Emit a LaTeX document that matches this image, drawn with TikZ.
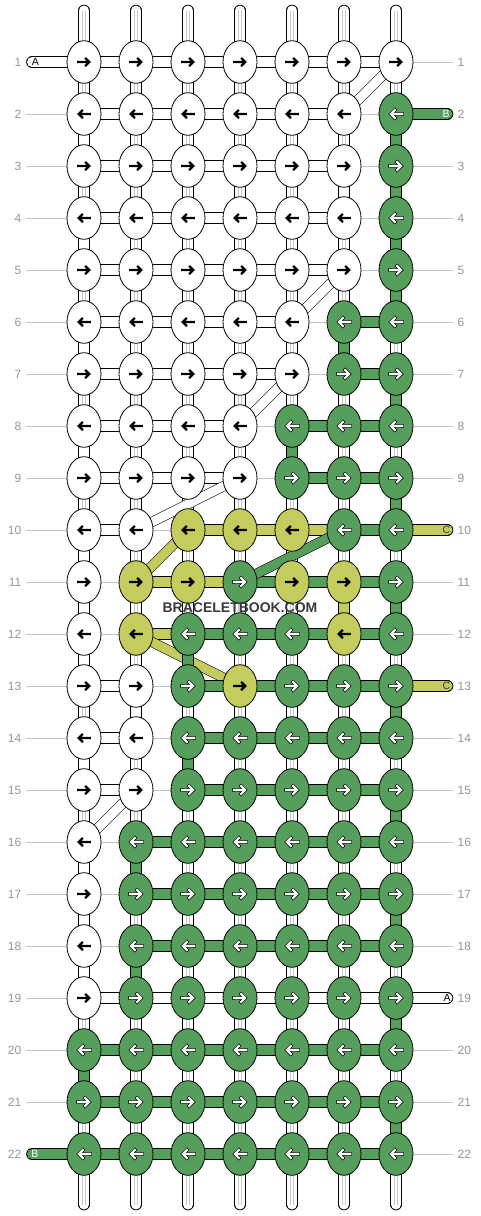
\documentclass[tikz,border=0pt]{standalone}
\usepackage{fontspec}
\setmainfont{Liberation Sans}
\usetikzlibrary{shapes.geometric}
\definecolor{cW}{RGB}{255,255,255}
\definecolor{cG}{RGB}{85,158,91}
\definecolor{cY}{RGB}{196,204,94}
\definecolor{cZ}{RGB}{196,204,94}
\definecolor{guidegrey}{RGB}{195,195,195}
\definecolor{lblgrey}{RGB}{150,150,150}
\definecolor{strandgrey}{RGB}{200,200,200}
\definecolor{wmark}{RGB}{58,58,58}
\pgfdeclarelayer{lguide}
\pgfdeclarelayer{lbase}
\pgfdeclarelayer{lY}
\pgfdeclarelayer{lW}
\pgfdeclarelayer{lG}
\pgfsetlayers{lguide,lbase,lY,lW,lG,main}
\tikzset{
  knot/.style={ellipse, draw=black, line width=0.8pt, minimum width=34pt, minimum height=42.6pt, inner sep=0pt},
  hband/.style={draw=black, line width=0.8pt, double=#1, double distance=10pt},
  dband/.style={draw=black, line width=0.6pt, double=#1, double distance=9pt},
  greyline/.style={draw=strandgrey, line width=0.55pt},
  guide/.style={draw=guidegrey, line width=0.9pt},
  rowlbl/.style={text=lblgrey, font=\fontsize{12}{14}\selectfont, inner sep=0pt},
  endlbl/.style={font=\fontsize{10.5}{12}\selectfont, inner sep=0pt},
  arrK/.pic={\draw[line width=2.3pt] (-6.8,0) -- (5,0) (1.1,-4.1) -- (5.2,0) -- (1.1,4.1);},
  arrO/.pic={\draw[line width=0.65pt, double=white, double distance=2.1pt, line cap=rect] (-6.2,0) -- (4.8,0) (1.1,-4) -- (5.1,0) -- (1.1,4);}
}
\newcommand\knotrow[2]{%
  \foreach \c [count=\i] in {#2}{%
    \node[knot, fill=c\c] (k-#1-\i) at ({84+52*(\i-1)},{62+52*(#1-1)}) {};
    \ifodd#1\relax\def\sx{1}\else\def\sx{-1}\fi
    \if\c G\pic[xscale=\sx] at (k-#1-\i) {arrO};%
    \else\if\c Z\pic[xscale=\sx] at (k-#1-\i) {arrO};%
    \else\pic[xscale=\sx] at (k-#1-\i) {arrK};\fi\fi
  }}
\newcommand\hrow[2]{%
  \foreach \c [count=\i] in {#2}{%
    \pgfmathtruncatemacro\j{\i+1}%
    \if\c N\else
      \begin{pgfonlayer}{l\c}
      \draw[hband=c\c] (k-#1-\i.center) -- (k-#1-\j.center);
      \end{pgfonlayer}
    \fi}}
\newcommand\vcol[2]{%
  \foreach \c [count=\i] in {#2}{%
    \pgfmathtruncatemacro\j{\i+1}%
    \if\c B
      \begin{pgfonlayer}{lbase}
      \draw[hband=white] (k-\i-#1.center) -- (k-\j-#1.center);
      \draw[greyline] ([xshift=-1.3pt]k-\i-#1.center) -- ([xshift=-1.3pt]k-\j-#1.center)
                      ([xshift=1.3pt]k-\i-#1.center) -- ([xshift=1.3pt]k-\j-#1.center);
      \end{pgfonlayer}
    \else
      \begin{pgfonlayer}{l\c}
      \draw[hband=c\c] (k-\i-#1.center) -- (k-\j-#1.center);
      \end{pgfonlayer}
    \fi}}
\begin{document}
\begin{tikzpicture}[x=1pt,y=-1pt]
\useasboundingbox (0,0) rectangle (480,1216);
\begin{pgfonlayer}{lguide}
\fill[white] (0,0) rectangle (480,1216);
\foreach \r in {1,...,22}{\draw[guide] (26,{62+52*(\r-1)}) -- (453,{62+52*(\r-1)});}
\end{pgfonlayer}
\foreach \r in {1,...,22}{%
  \node[rowlbl, anchor=east] (ll-\r) at (21.5,{62+52*(\r-1)}) {\r};
  \node[rowlbl, anchor=west] (rl-\r) at (457.5,{62+52*(\r-1)}) {\r};}
% knots
\knotrow{1}{W,W,W,W,W,W,W}
\knotrow{2}{W,W,W,W,W,W,G}
\knotrow{3}{W,W,W,W,W,W,G}
\knotrow{4}{W,W,W,W,W,W,G}
\knotrow{5}{W,W,W,W,W,W,G}
\knotrow{6}{W,W,W,W,W,G,G}
\knotrow{7}{W,W,W,W,W,G,G}
\knotrow{8}{W,W,W,W,G,G,G}
\knotrow{9}{W,W,W,W,G,G,G}
\knotrow{10}{W,W,Y,Y,Y,G,G}
\knotrow{11}{W,Y,Y,G,Y,Y,G}
\knotrow{12}{W,Y,G,G,G,Y,G}
\knotrow{13}{W,W,G,Y,G,G,G}
\knotrow{14}{W,W,G,G,G,G,G}
\knotrow{15}{W,W,G,G,G,G,G}
\knotrow{16}{W,G,G,G,G,G,G}
\knotrow{17}{W,G,G,G,G,G,G}
\knotrow{18}{W,G,G,G,G,G,G}
\knotrow{19}{W,G,G,G,G,G,G}
\knotrow{20}{G,G,G,G,G,G,G}
\knotrow{21}{G,G,G,G,G,G,G}
\knotrow{22}{G,G,G,G,G,G,G}
% horizontal segments
\hrow{1}{W,W,W,W,W,W}
\hrow{2}{W,W,W,W,W,N}
\hrow{3}{W,W,W,W,W,N}
\hrow{4}{W,W,W,W,W,N}
\hrow{5}{W,W,W,W,W,N}
\hrow{6}{W,W,W,W,N,G}
\hrow{7}{W,W,W,W,N,G}
\hrow{8}{W,W,W,N,G,G}
\hrow{9}{W,W,W,N,G,G}
\hrow{10}{W,N,Y,Y,Y,G}
\hrow{11}{N,Y,Y,G,G,G}
\hrow{12}{N,Y,G,G,G,G}
\hrow{13}{W,N,G,G,G,G}
\hrow{14}{W,N,G,G,G,G}
\hrow{15}{W,N,G,G,G,G}
\hrow{16}{N,G,G,G,G,G}
\hrow{17}{N,G,G,G,G,G}
\hrow{18}{N,G,G,G,G,G}
\hrow{19}{W,W,W,W,W,W}
\hrow{20}{G,G,G,G,G,G}
\hrow{21}{G,G,G,G,G,G}
\hrow{22}{G,G,G,G,G,G}
% vertical segments
\vcol{1}{B,W,B,W,B,W,B,W,B,W,W,W,B,W,B,W,W,W,B,G,B}
\vcol{2}{B,B,B,B,B,B,B,B,B,B,B,B,W,B,B,G,B,G,B,B,B}
\vcol{3}{B,B,B,B,B,B,B,B,B,B,B,G,B,G,B,B,B,B,B,B,B}
\vcol{4}{B,B,B,B,B,B,B,B,B,B,B,B,B,B,B,B,B,B,B,B,B}
\vcol{5}{B,B,B,B,B,B,B,G,B,B,B,B,B,B,B,B,B,B,B,B,B}
\vcol{6}{B,B,W,B,B,G,B,B,B,B,Y,B,B,B,B,B,B,B,B,B,B}
\vcol{7}{B,G,G,G,G,B,G,B,G,B,G,B,G,B,G,B,G,B,G,B,G}
% top and bottom strand ends
\begin{pgfonlayer}{lbase}
\foreach \i in {1,...,7}{%
  \coordinate (t-\i) at ({84+52*(\i-1)},10.5);
  \coordinate (u-\i) at ({84+52*(\i-1)},1204.5);
  \draw[hband=white, line cap=round] (t-\i) -- (k-1-\i.center);
  \draw[hband=white, line cap=round] (u-\i) -- (k-22-\i.center);
  \draw[greyline] ([xshift=-1.3pt]t-\i) -- ([xshift=-1.3pt]k-1-\i.center)
                  ([xshift=1.3pt]t-\i) -- ([xshift=1.3pt]k-1-\i.center)
                  ([xshift=-1.3pt]u-\i) -- ([xshift=-1.3pt]k-22-\i.center)
                  ([xshift=1.3pt]u-\i) -- ([xshift=1.3pt]k-22-\i.center);}
\end{pgfonlayer}
% side strand ends
\coordinate (eA1) at (32,62);
\coordinate (eB22) at (32,1154);
\coordinate (eB2) at (447.5,114);
\coordinate (eC10) at (447.5,530);
\coordinate (eC13) at (447.5,686);
\coordinate (eA19) at (447.5,998);
\begin{pgfonlayer}{lW}
\draw[hband=white, line cap=round] (eA1) -- (k-1-1.center);
\draw[hband=white, line cap=round] (eA19) -- (k-19-7.center);
\end{pgfonlayer}
\begin{pgfonlayer}{lG}
\draw[hband=cG, line cap=round] (eB22) -- (k-22-1.center);
\draw[hband=cG, line cap=round] (eB2) -- (k-2-7.center);
\end{pgfonlayer}
\begin{pgfonlayer}{lY}
\draw[hband=cY, line cap=round] (eC10) -- (k-10-7.center);
\draw[hband=cY, line cap=round] (eC13) -- (k-13-7.center);
\end{pgfonlayer}
\node[endlbl, text=black] (tA1) at (35.5,62) {A};
\node[endlbl, text=white] (tB22) at (35,1154) {B};
\node[endlbl, text=white] (tB2) at (446,114) {B};
\node[endlbl, text=wmark] (tC10) at (446.5,530) {C};
\node[endlbl, text=wmark] (tC13) at (446.5,686) {C};
\node[endlbl, text=black] (tA19) at (447,998) {A};
% diagonals
\begin{pgfonlayer}{lW}
\draw[dband=white] (k-1-7.center) -- (k-2-6.center);
\draw[dband=white] (k-5-6.center) -- (k-6-5.center);
\draw[dband=white] (k-7-5.center) -- (k-8-4.center);
\draw[dband=white] (k-9-4.center) -- (k-10-2.center);
\draw[dband=white] (k-15-2.center) -- (k-16-1.center);
\end{pgfonlayer}
\begin{pgfonlayer}{lG}
\draw[dband=cG] (k-10-6.center) -- (k-11-4.center);
\end{pgfonlayer}
\begin{pgfonlayer}{lY}
\draw[dband=cY] (k-10-3.center) -- (k-11-2.center);
\draw[dband=cY] (k-12-2.center) -- (k-13-4.center);
\end{pgfonlayer}
% watermark
\node[text=wmark, font=\bfseries\fontsize{14}{16}\selectfont, inner sep=0pt] (wm) at (240,607.5) {BRACELETBOOK.COM};
\end{tikzpicture}
\end{document}
